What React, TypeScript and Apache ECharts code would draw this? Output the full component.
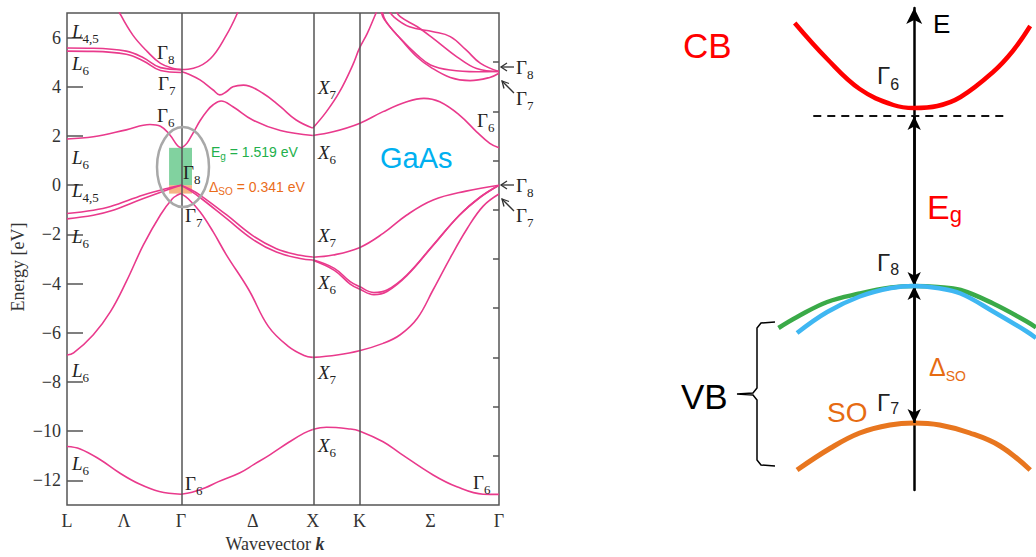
import { useEffect, useRef } from 'react';
import * as echarts from 'echarts';

// ---------- GaAs band structure (left panel) ----------
// k positions: L=0, Γ=0.866, X=1.866, K=2.22, Γ=3.28
const symLines = [0.866, 1.866, 2.22];
const xTickPos = [0, 0.433, 0.866, 1.41, 1.866, 2.22, 2.76, 3.28];
const xTickNames = ['L', 'Λ', 'Γ', 'Δ', 'X', 'K', 'Σ', 'Γ'];
const yMajorTicks = [-12, -10, -8, -6, -4, -2, 0, 2, 4, 6];
const yMinorTicks = [-11, -9, -7, -5, -3, -1, 1, 3, 5];
const EG = 1.519;
const DSO = 0.341;

// L – Γ
const lgCore = [[0, -10.62], [0.1, -10.72], [0.25, -11.15], [0.4, -11.7], [0.55, -12.15], [0.7, -12.45], [0.866, -12.56]];
const lgSO = [[0, -6.9], [0.05, -6.82], [0.2, -6.08], [0.33, -5.14], [0.45, -3.92], [0.58, -2.43], [0.71, -1.2], [0.8, -0.55], [0.84, -0.4], [0.866, -0.34]];
const lgHH1 = [[0, -1.15], [0.2, -1.02], [0.33, -0.87], [0.58, -0.4], [0.78, -0.1], [0.866, 0]];
const lgHH2 = [[0, -1.37], [0.2, -1.22], [0.33, -1.05], [0.58, -0.54], [0.78, -0.15], [0.866, 0]];
const lgCB1 = [[0, 1.88], [0.2, 1.97], [0.45, 2.25], [0.63, 2.47], [0.71, 2.4], [0.78, 2.05], [0.84, 1.6], [0.866, 1.52]];
const lgCB2a = [[0, 5.58], [0.2, 5.57], [0.45, 5.45], [0.58, 5.18], [0.71, 4.78], [0.866, 4.7]];
const lgCB2b = [[0, 5.45], [0.2, 5.44], [0.45, 5.32], [0.58, 5.05], [0.71, 4.66], [0.866, 4.58]];
const lgCB3 = [[0.38, 7.3], [0.4, 7.0], [0.5, 6.1], [0.61, 5.43], [0.71, 4.95], [0.81, 4.74], [0.866, 4.7]];

// Γ – X
const gxCore = [[0.866, -12.56], [0.95, -12.48], [1.05, -12.3], [1.15, -12.05], [1.31, -11.7], [1.42, -11.35], [1.54, -10.96], [1.69, -10.43], [1.8, -10.08], [1.866, -9.93]];
const gxSO = [[0.866, -0.34], [0.92, -0.55], [1.01, -1.08], [1.11, -1.9], [1.21, -2.83], [1.38, -4.25], [1.53, -5.75], [1.68, -6.55], [1.8, -6.92], [1.866, -7.0]];
const gxHH1 = [[0.866, 0], [0.93, -0.15], [1.01, -0.4], [1.21, -1.2], [1.41, -2.05], [1.59, -2.58], [1.77, -2.85], [1.866, -2.92]];
const gxHH2 = [[0.866, 0], [0.93, -0.2], [1.01, -0.5], [1.21, -1.35], [1.41, -2.2], [1.59, -2.72], [1.77, -2.98], [1.866, -3.04]];
const gxCB1 = [[0.866, 1.5], [0.91, 1.7], [0.96, 2.15], [1.01, 2.62], [1.06, 3.0], [1.11, 3.27], [1.17, 3.42], [1.26, 3.19], [1.41, 2.65], [1.62, 2.22], [1.866, 2.02]];
const gxCB2 = [[0.866, 4.62], [0.93, 4.5], [1.01, 4.28], [1.11, 3.87], [1.16, 3.67], [1.21, 3.8], [1.26, 4.0], [1.34, 4.07], [1.49, 3.73], [1.62, 3.19], [1.74, 2.65], [1.866, 2.32]];
const gxCB3 = [[0.866, 4.7], [0.96, 4.75], [1.09, 5.15], [1.21, 6.1], [1.29, 6.95], [1.31, 7.3]];

// X – K – Γ
const xgCore = [[1.866, -9.93], [1.97, -9.84], [2.15, -9.91], [2.22, -9.99], [2.4, -10.43], [2.53, -10.9], [2.78, -11.78], [2.96, -12.26], [3.16, -12.56], [3.28, -12.57]];
const xgSO = [[1.866, -7.0], [2.05, -6.9], [2.22, -6.73], [2.4, -6.43], [2.53, -6.08], [2.66, -5.41], [2.78, -4.25], [2.91, -2.95], [3.04, -1.75], [3.16, -0.85], [3.28, -0.36]];
const xgHH1 = [[1.866, -2.93], [2.02, -2.84], [2.22, -2.54], [2.4, -1.96], [2.58, -1.21], [2.78, -0.6], [3.03, -0.24], [3.28, 0]];
const xgHH2a = [[1.866, -3.03], [2.03, -3.38], [2.15, -3.92], [2.22, -4.12], [2.33, -4.36], [2.43, -4.26], [2.58, -3.65], [2.78, -2.43], [2.98, -1.21], [3.14, -0.47], [3.28, 0]];
const xgHH2b = [[1.866, -3.05], [2.03, -3.46], [2.15, -4.02], [2.22, -4.22], [2.33, -4.45], [2.43, -4.32], [2.58, -3.68], [2.78, -2.45], [2.98, -1.22], [3.14, -0.48], [3.28, 0]];
const xgCB1 = [[1.866, 2.32], [1.97, 2.99], [2.07, 3.8], [2.17, 4.89], [2.22, 5.56], [2.28, 6.17], [2.34, 6.92], [2.37, 7.3]];
const xgCB2 = [[1.866, 2.02], [2.02, 2.17], [2.22, 2.51], [2.4, 2.99], [2.58, 3.39], [2.71, 3.53], [2.83, 3.39], [2.98, 2.85], [3.11, 2.17], [3.21, 1.7], [3.28, 1.52]];
const xgA = [[2.44, 7.15], [2.48, 6.85], [2.6, 6.44], [2.78, 6.24], [2.91, 6.04], [3.03, 5.5], [3.14, 4.95], [3.28, 4.62]];
const xgB = [[2.49, 7.15], [2.53, 6.85], [2.66, 6.44], [2.78, 5.97], [2.96, 5.22], [3.11, 4.74], [3.28, 4.62]];
const xgC1 = [[2.38, 7.15], [2.41, 6.73], [2.53, 5.97], [2.66, 5.29], [2.76, 4.89], [2.91, 4.68], [3.11, 4.61], [3.28, 4.62]];
const xgC2 = [[2.39, 7.15], [2.42, 6.68], [2.54, 5.9], [2.66, 5.2], [2.76, 4.8], [2.91, 4.38], [3.06, 4.25], [3.21, 4.38], [3.28, 4.55]];

// ---------- schematic (right panel) ----------
const cbCurve = [[-1.03, 4.54], [-0.75, 3.82], [-0.47, 3.22], [-0.18, 2.9], [0, 2.84], [0.2, 2.88], [0.4, 3.06], [0.68, 3.56], [0.85, 3.98], [1.0, 4.48]];
const hhCurve = [[-1.17, -1.56], [-1.01, -1.34], [-0.75, -1.04], [-0.47, -0.87], [-0.2, -0.75], [0, -0.72], [0.2, -0.74], [0.4, -0.8], [0.68, -1.07], [0.97, -1.43], [1.05, -1.55]];
const lhCurve = [[-1.01, -1.66], [-0.75, -1.24], [-0.47, -0.93], [-0.2, -0.76], [0, -0.72], [0.2, -0.76], [0.4, -0.87], [0.68, -1.23], [0.97, -1.63], [1.05, -1.76]];
const soCurve = [[-1.01, -4.4], [-0.72, -3.96], [-0.47, -3.66], [-0.21, -3.5], [0, -3.46], [0.22, -3.5], [0.48, -3.66], [0.74, -3.92], [1.0, -4.4]];
const cbEdgeLine = [[-0.87, 2.68], [0.81, 2.68]];
const cbMin = 2.68;
const vbTop = -0.72;
const soTop = -3.46;

const SERIF = '"Liberation Serif", "DejaVu Serif", serif';
const SANS = '"Liberation Sans", "Noto Sans", Arial, sans-serif';
const PINK = '#e93a8c';

let measureCtx: CanvasRenderingContext2D | null = null;
const textWidth = (text: string, size: number, family: string, style = 'normal', weight = 'normal') => {
  if (!measureCtx) measureCtx = document.createElement('canvas').getContext('2d');
  if (!measureCtx) return text.length * size * 0.55;
  measureCtx.font = `${style} ${weight} ${size}px ${family}`;
  return measureCtx.measureText(text).width;
};

type LblOpt = { fs?: number; ss?: number; off?: number; italic?: boolean; color?: string; ff?: string; tail?: string; gap?: number };
const lbl = (x: number, yc: number, main: string, sub: string, o: LblOpt = {}): any[] => {
  const fs = o.fs ?? 19;
  const ss = o.ss ?? 13;
  const off = o.off ?? 7;
  const color = o.color ?? '#222';
  const ff = o.ff ?? SERIF;
  const fst = o.italic ? 'italic' : 'normal';
  const w1 = textWidth(main, fs, ff, fst) + (o.gap ?? 0);
  const w2 = textWidth(sub, ss, ff);
  const els: any[] = [
    { type: 'text', x, y: yc, silent: true, z: 10, style: { text: main, fontSize: fs, fontFamily: ff, fontStyle: fst, fill: color, align: 'left', verticalAlign: 'middle' } },
    { type: 'text', x: x + w1, y: yc + off, silent: true, z: 10, style: { text: sub, fontSize: ss, fontFamily: ff, fill: color, align: 'left', verticalAlign: 'middle' } },
  ];
  if (o.tail) {
    els.push({ type: 'text', x: x + w1 + w2, y: yc, silent: true, z: 10, style: { text: o.tail, fontSize: fs, fontFamily: ff, fill: color, align: 'left', verticalAlign: 'middle' } });
  }
  return els;
};

const txt = (x: number, y: number, text: string, fs: number, fill: string, ff = SANS) => ({
  type: 'text', x, y, silent: true, z: 10,
  style: { text, fontSize: fs, fontFamily: ff, fill, align: 'left', verticalAlign: 'middle' },
});

const arrowH = (y: number) => [
  { type: 'line', silent: true, z: 10, shape: { x1: 514, y1: y, x2: 501, y2: y }, style: { stroke: '#333', lineWidth: 1.3 } },
  { type: 'polyline', silent: true, z: 10, shape: { points: [[507, y - 4], [501, y], [507, y + 4]] }, style: { stroke: '#333', lineWidth: 1.3, fill: null } },
];
const arrowD = (y: number) => [
  { type: 'line', silent: true, z: 10, shape: { x1: 514, y1: y + 12, x2: 502, y2: y }, style: { stroke: '#333', lineWidth: 1.3 } },
  { type: 'polyline', silent: true, z: 10, shape: { points: [[504, y + 7.5], [502, y], [509, y + 2.5]] }, style: { stroke: '#333', lineWidth: 1.3, fill: null } },
];

const leftBands = [
  lgCore, lgSO, lgHH1, lgHH2, lgCB1, lgCB2a, lgCB2b, lgCB3,
  gxCore, gxSO, gxHH1, gxHH2, gxCB1, gxCB2, gxCB3,
  xgCore, xgSO, xgHH1, xgHH2a, xgHH2b, xgCB1, xgCB2, xgA, xgB, xgC1, xgC2,
];

const minus = (v: number) => (v < 0 ? '−' + String(-v) : String(v));

function buildOption(): any {
  const bandSeries = leftBands.map((d) => ({
    type: 'line', xAxisIndex: 0, yAxisIndex: 0, data: d, smooth: 0.4, symbol: 'none', showSymbol: false,
    lineStyle: { color: PINK, width: 1.6 }, silent: true, z: 3,
  }));

  const markerSeries = {
    type: 'line', xAxisIndex: 0, yAxisIndex: 0, data: [], silent: true, symbol: 'none',
    markLine: {
      silent: true, symbol: ['none', 'none'], label: { show: false },
      lineStyle: { color: '#555', width: 1.5, type: 'solid' },
      emphasis: { disabled: true },
      data: symLines.map((x) => ({ xAxis: x })),
    },
    markArea: {
      silent: true,
      data: [
        [{ xAxis: 0.775, yAxis: 0, itemStyle: { color: 'rgba(45,180,95,0.6)' } }, { xAxis: 0.949, yAxis: EG }],
        [{ xAxis: 0.775, yAxis: -DSO, itemStyle: { color: 'rgba(240,130,50,0.6)' } }, { xAxis: 0.949, yAxis: 0 }],
      ],
    },
  };

  const rightLine = (data: number[][], color: string, width: number, z: number) => ({
    type: 'line', xAxisIndex: 1, yAxisIndex: 2, data, smooth: 0.4, symbol: 'none', showSymbol: false,
    lineStyle: { color, width, cap: 'butt' }, silent: true, z,
  });

  const rightSeries = [
    rightLine(cbCurve, '#ff0000', 4.5, 4),
    rightLine(hhCurve, '#3aaa48', 4.5, 4),
    rightLine(lhCurve, '#3fb7f2', 4.5, 5),
    rightLine(soCurve, '#e8761f', 5, 4),
    {
      type: 'line', xAxisIndex: 1, yAxisIndex: 2, data: cbEdgeLine, symbol: 'none', silent: true, z: 3,
      lineStyle: { color: '#111', width: 2, type: [8, 6] },
      markLine: {
        silent: true, symbol: ['arrow', 'arrow'], symbolSize: [10, 14], label: { show: false },
        lineStyle: { color: '#000', width: 2.5, type: 'solid' },
        emphasis: { disabled: true },
        data: [
          [{ coord: [0, cbMin] }, { coord: [0, vbTop] }],
          [{ coord: [0, vbTop] }, { coord: [0, soTop] }],
        ],
      },
    },
  ];

  const graphics: any[] = [
    // ellipse around Γ
    { type: 'ellipse', silent: true, z: 6, shape: { cx: 183, cy: 167, rx: 26, ry: 40 }, style: { stroke: '#a8a8a8', lineWidth: 2.5, fill: null } },
    // left panel labels
    ...lbl(72, 31, 'L', '4,5', { italic: true }),
    ...lbl(72, 63, 'L', '6', { italic: true }),
    ...lbl(157, 52, 'Γ', '8'),
    ...lbl(158, 83, 'Γ', '7'),
    ...lbl(157, 115, 'Γ', '6'),
    ...lbl(72, 157, 'L', '6', { italic: true }),
    ...lbl(183, 172, 'Γ', '8'),
    ...lbl(72, 190, 'L', '4,5', { italic: true }),
    ...lbl(185, 215, 'Γ', '7'),
    ...lbl(72, 236, 'L', '6', { italic: true }),
    ...lbl(72, 370, 'L', '6', { italic: true }),
    ...lbl(72, 463, 'L', '6', { italic: true }),
    ...lbl(185, 483, 'Γ', '6'),
    ...lbl(318, 87, 'X', '7', { italic: true }),
    ...lbl(318, 152, 'X', '6', { italic: true }),
    ...lbl(318, 235, 'X', '7', { italic: true }),
    ...lbl(318, 282, 'X', '6', { italic: true }),
    ...lbl(318, 372, 'X', '7', { italic: true }),
    ...lbl(318, 445, 'X', '6', { italic: true }),
    ...lbl(477, 120, 'Γ', '6'),
    ...lbl(473, 482, 'Γ', '6'),
    ...lbl(516, 67, 'Γ', '8'),
    ...lbl(516, 98, 'Γ', '7'),
    ...lbl(516, 185, 'Γ', '8'),
    ...lbl(516, 215, 'Γ', '7'),
    ...arrowH(67),
    ...arrowD(81),
    ...arrowH(185),
    ...arrowD(199),
    ...lbl(211, 152, 'E', 'g', { ff: SANS, fs: 14, ss: 10, off: 4, color: '#22b04b', tail: ` = ${EG} eV` }),
    ...lbl(209, 187, 'Δ', 'SO', { ff: SANS, fs: 14, ss: 10, off: 4, color: '#ea6c1a', tail: ` = ${DSO} eV` }),
    txt(380, 158, 'GaAs', 29, '#00b0f0'),
    // axis names
    {
      type: 'text', x: 18, y: 267, rotation: Math.PI / 2, silent: true, z: 10,
      style: { text: 'Energy [eV]', fontSize: 18, fontFamily: SERIF, fill: '#333', align: 'center', verticalAlign: 'middle' },
    },
    {
      type: 'text', x: 275, y: 544, silent: true, z: 10,
      style: {
        text: '{n|Wavevector }{k|k}', align: 'center', verticalAlign: 'middle',
        rich: {
          n: { fontSize: 18, fontFamily: SERIF, fill: '#333' },
          k: { fontSize: 18, fontFamily: SERIF, fill: '#333', fontStyle: 'italic', fontWeight: 'bold' },
        },
      },
    },
    // right panel texts
    txt(683, 45, 'CB', 35, '#ff0000'),
    txt(933, 24, 'E', 26, '#000'),
    ...lbl(877, 75, 'Γ', '6', { ff: SANS, fs: 24, ss: 16, off: 9 }),
    ...lbl(927, 207, 'E', 'g', { ff: SANS, fs: 34, ss: 22, off: 7, color: '#ff0000' }),
    ...lbl(877, 262, 'Γ', '8', { ff: SANS, fs: 24, ss: 16, off: 7 }),
    txt(681, 396, 'VB', 35, '#000'),
    ...lbl(929, 367, 'Δ', 'SO', { ff: SANS, fs: 25, ss: 14, off: 9, color: '#e66b12' }),
    txt(827, 412, 'SO', 28, '#e66b12'),
    ...lbl(877, 402, 'Γ', '7', { ff: SANS, fs: 24, ss: 16, off: 6 }),
    {
      type: 'polyline', silent: true, z: 10,
      shape: { points: [[775, 322], [761, 323], [757, 328], [757, 388], [753, 393], [737, 394], [753, 395], [757, 400], [757, 460], [761, 465], [775, 466]] },
      style: { stroke: '#000', lineWidth: 1.5, fill: null },
    },
  ];

  return {
    animation: false,
    backgroundColor: '#fff',
    grid: [
      { left: 67, top: 13, width: 432, height: 492, show: true, borderColor: '#555', borderWidth: 1.5, backgroundColor: 'transparent' },
      { left: 775, top: 8, width: 261, height: 482 },
    ],
    xAxis: [
      {
        gridIndex: 0, type: 'value', min: 0, max: 3.28,
        axisLine: { show: false }, axisTick: { show: false }, splitLine: { show: false },
        axisLabel: {
          customValues: xTickPos, margin: 7, fontFamily: SERIF, fontSize: 18, color: '#333', hideOverlap: false,
          formatter: (v: number) => {
            const i = xTickPos.findIndex((p) => Math.abs(p - v) < 1e-6);
            return i >= 0 ? xTickNames[i] : '';
          },
        },
      },
      { gridIndex: 1, type: 'value', min: -1.2, max: 1.05, show: false },
    ],
    yAxis: [
      {
        gridIndex: 0, type: 'value', min: -13, max: 7,
        axisLine: { show: false }, splitLine: { show: false },
        axisTick: { show: true, inside: true, length: 16, customValues: yMajorTicks, lineStyle: { color: '#555', width: 1.5 } },
        axisLabel: { customValues: yMajorTicks, margin: 6, fontFamily: SERIF, fontSize: 18, color: '#333', formatter: (v: number) => minus(v) },
      },
      {
        gridIndex: 0, type: 'value', min: -13, max: 7,
        axisLine: { show: false }, splitLine: { show: false }, axisLabel: { show: false },
        axisTick: { show: true, inside: true, length: 6, customValues: yMinorTicks, lineStyle: { color: '#555', width: 1.5 } },
      },
      {
        gridIndex: 1, type: 'value', min: -4.8, max: 4.84,
        axisLine: { show: true, onZero: true, symbol: ['none', 'arrow'], symbolSize: [12, 16], lineStyle: { color: '#000', width: 2.5 } },
        axisTick: { show: false }, axisLabel: { show: false }, splitLine: { show: false },
      },
    ],
    series: [markerSeries, ...bandSeries, ...rightSeries],
    graphic: graphics,
  };
}

export default function App() {
  const ref = useRef<HTMLDivElement>(null);
  useEffect(() => {
    document.body.style.margin = '0';
    if (!ref.current) return;
    const chart = echarts.init(ref.current, null, { renderer: 'svg' });
    chart.setOption(buildOption());
    return () => chart.dispose();
  }, []);
  return <div ref={ref} style={{ width: 1036, height: 557 }} />;
}
